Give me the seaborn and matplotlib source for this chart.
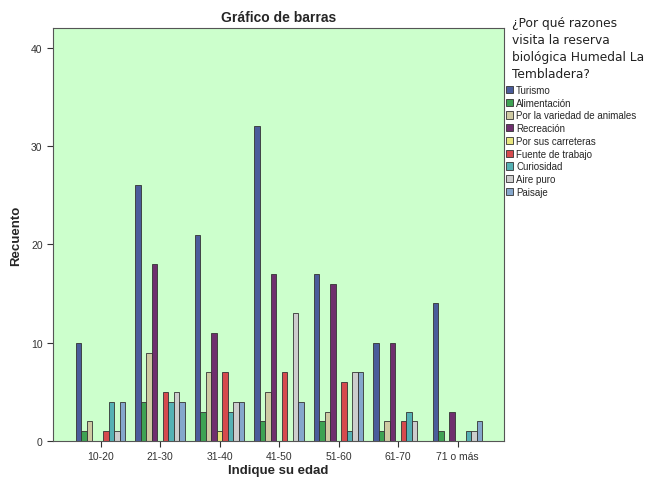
import pandas as pd
import matplotlib
matplotlib.use('Agg')
import matplotlib.pyplot as plt
import seaborn as sns

# Data
edades = ['10-20', '21-30', '31-40', '41-50', '51-60', '61-70', '71 o más']
razones = ['Turismo', 'Alimentación', 'Por la variedad de animales', 'Recreación',
           'Por sus carreteras', 'Fuente de trabajo', 'Curiosidad', 'Aire puro', 'Paisaje']
turismo      = [10, 26, 21, 32, 17, 10, 14]
alimentacion = [1, 4, 3, 2, 2, 1, 1]
variedad     = [2, 9, 7, 5, 3, 2, 0]
recreacion   = [0, 18, 11, 17, 16, 10, 3]
carreteras   = [0, 0, 1, 0, 0, 0, 0]
trabajo      = [1, 5, 7, 7, 6, 2, 0]
curiosidad   = [4, 4, 3, 0, 1, 3, 1]
aire_puro    = [1, 5, 4, 13, 7, 2, 1]
paisaje      = [4, 4, 4, 4, 7, 0, 2]

colores = ['#3D55A8', '#2DB34A', '#D6D09C', '#7A2478', '#FAF76E',
           '#EE3237', '#45C0C4', '#CDCDCD', '#79A6D8']

series = [turismo, alimentacion, variedad, recreacion, carreteras,
          trabajo, curiosidad, aire_puro, paisaje]
rows = []
for razon, vals in zip(razones, series):
    for edad, v in zip(edades, vals):
        rows.append({'edad': edad, 'razon': razon, 'recuento': v})
df = pd.DataFrame(rows)

sns.set_style('white')
plt.rcParams['font.family'] = ['Liberation Sans', 'DejaVu Sans']

fig = plt.figure(figsize=(6.47, 4.81), dpi=100)
ax = fig.add_axes([53 / 647, 1 - 442 / 481, 451 / 647, 413 / 481])
ax.set_facecolor('#CCFFCC')

sns.barplot(data=df, x='edad', y='recuento', hue='razon', order=edades,
            hue_order=razones, palette=colores, width=0.83,
            edgecolor='#333333', linewidth=0.6, ax=ax)

ax.set_ylim(0, 42)
ax.set_xlim(-0.8, 6.78)
ax.set_yticks([0, 10, 20, 30, 40])
ax.tick_params(axis='both', direction='out', length=4, width=0.8,
               labelsize=7.5, colors='#333333', bottom=True, left=True)
for s in ax.spines.values():
    s.set_color('#555555')
    s.set_linewidth(0.8)

ax.set_xlabel('Indique su edad', fontsize=9.5, fontweight='bold', labelpad=2)
ax.set_ylabel('Recuento', fontsize=9.5, fontweight='bold', labelpad=6)
ax.set_title('Gráfico de barras', fontsize=10, fontweight='bold', pad=5)

handles, labels = ax.get_legend_handles_labels()
ax.legend(handles, labels, loc='upper left',
          bbox_to_anchor=(506 / 647, 1 - 86 / 481), bbox_transform=fig.transFigure,
          frameon=False, fontsize=7, handlelength=0.75, handleheight=0.75,
          handletextpad=0.3, labelspacing=0.28, borderpad=0, borderaxespad=0)

fig.text(512 / 647, 1 - 17 / 481,
         '¿Por qué razones\nvisita la reserva\nbiológica Humedal La\nTembladera?',
         ha='left', va='top', fontsize=8.8, linespacing=1.4,
         family=['DejaVu Sans'], color='#222222')

fig.savefig('out.png', dpi=100)
